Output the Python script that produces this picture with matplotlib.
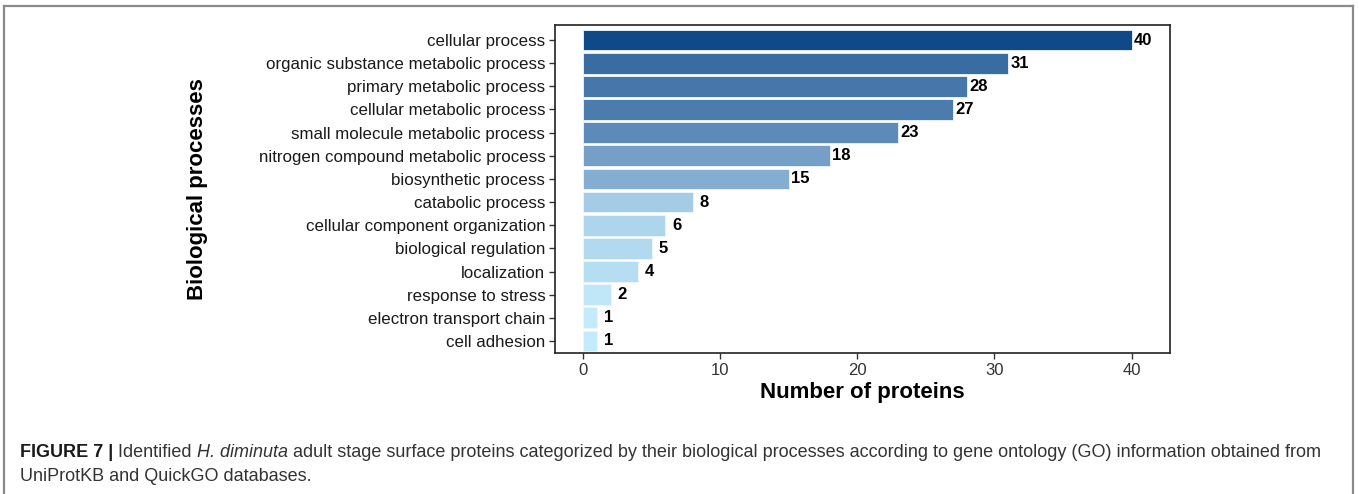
import matplotlib
matplotlib.use("Agg")
import matplotlib.pyplot as plt
from matplotlib.colors import LinearSegmentedColormap, Normalize
from matplotlib.lines import Line2D

plt.rcParams['font.family'] = ['Liberation Sans', 'DejaVu Sans']

# data
processes = ["cellular process", "organic substance metabolic process",
             "primary metabolic process", "cellular metabolic process",
             "small molecule metabolic process", "nitrogen compound metabolic process",
             "biosynthetic process", "catabolic process",
             "cellular component organization", "biological regulation",
             "localization", "response to stress", "electron transport chain",
             "cell adhesion"]
counts = [40, 31, 28, 27, 23, 18, 15, 8, 6, 5, 4, 2, 1, 1]
xticks = [0, 10, 20, 30, 40]

cap_parts = [("FIGURE 7 | ", "bold", "normal", "#1a1a1a"),
             ("Identified ", "normal", "normal", "#333333"),
             ("H. diminuta", "normal", "italic", "#333333"),
             (" adult stage surface proteins categorized by their biological processes "
              "according to gene ontology (GO) information obtained from",
              "normal", "normal", "#333333")]
cap_line2 = "UniProtKB and QuickGO databases."

fig = plt.figure(figsize=(13.59, 4.94), dpi=100)
W, H = 1359, 494

def px(x0, y0, x1, y1):
    return [x0 / W, 1 - y1 / H, (x1 - x0) / W, (y1 - y0) / H]

ax = fig.add_axes(px(555, 25, 1170, 353))

cmap = LinearSegmentedColormap.from_list("blues", ["#c3ebfb", "#6a94c0", "#0f4987"])
norm = Normalize(vmin=1, vmax=40)
ypos = list(range(len(processes)))
ax.barh(ypos, counts, height=0.9, color=[cmap(norm(c)) for c in counts],
        edgecolor="#eef6fb", linewidth=0.6)
for y, c in zip(ypos, counts):
    ax.annotate(str(c), (c, y), xytext=(1.5 if c >= 10 else 5, 0),
                textcoords="offset points", va="center", ha="left",
                fontsize=12, fontweight="bold", color="black")

ax.set_yticks(ypos)
ax.set_yticklabels(processes, fontsize=12.2, color="#1a1a1a")
ax.set_ylim(len(processes) - 0.48, -0.65)
ax.set_xlim(-2.05, 42.8)
ax.set_xticks(xticks)
ax.set_xticklabels([str(t) for t in xticks], fontsize=12, color="#333333")
ax.tick_params(length=4, width=1, color="#333333", pad=3)
for s in ax.spines.values():
    s.set_linewidth(1.2)
    s.set_color("#222222")
ax.set_xlabel("Number of proteins", fontsize=16, fontweight="bold", labelpad=3)
fig.text(197 / W, 1 - 189 / H, "Biological processes", rotation=90,
         fontsize=16, fontweight="bold", ha="center", va="center")

# outer frame (open at the bottom)
for xs, ys in [([4, 4], [494, 6]), ([4, 1353], [6, 6]), ([1353, 1353], [6, 494])]:
    fig.add_artist(Line2D([x / W for x in xs], [1 - y / H for y in ys],
                          color="#8a8a8a", linewidth=1.6))

# caption with mixed styles
fig.canvas.draw()
r = fig.canvas.get_renderer()
x = 20
y1 = 1 - 452 / H
for txt, wt, st, col in cap_parts:
    t = fig.text(x / W, y1, txt, fontsize=12.95, fontweight=wt, fontstyle=st,
                 color=col, va="center", ha="left")
    x += t.get_window_extent(r).width
fig.text(20 / W, 1 - 476 / H, cap_line2, fontsize=12.95, color="#333333",
         va="center", ha="left")

fig.savefig("out.png", dpi=100)
